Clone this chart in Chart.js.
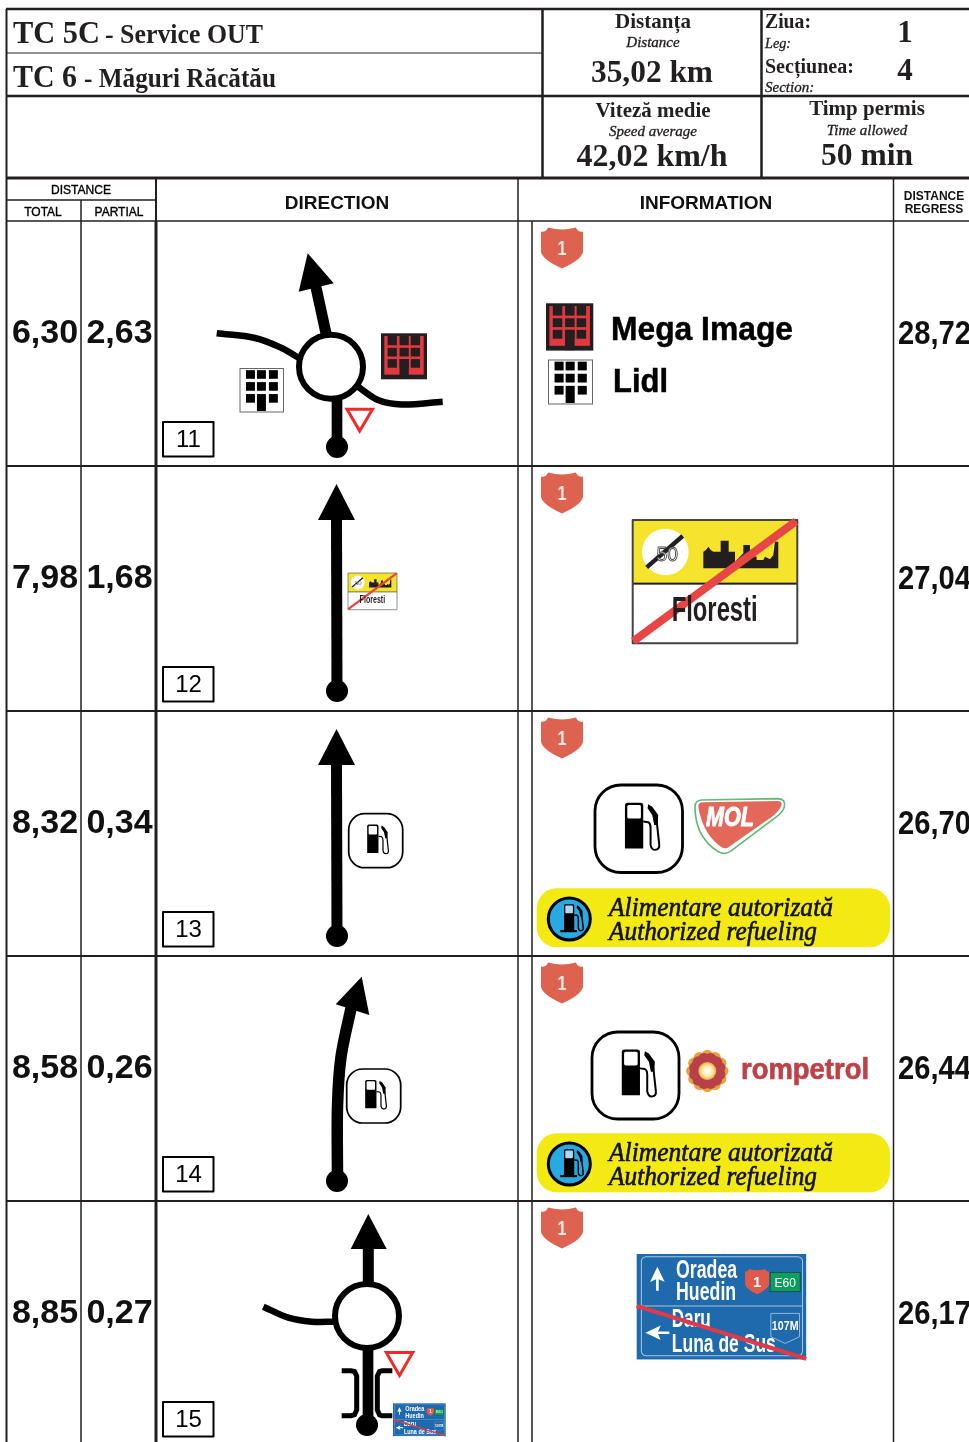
<!DOCTYPE html>
<html>
<head>
<meta charset="utf-8">
<style>html,body{margin:0;padding:0;background:#fff;overflow:hidden}canvas{display:block}</style>
<script src="https://cdn.jsdelivr.net/npm/chart.js@4"></script>
</head>
<body>
<canvas id="c" width="969" height="1442"></canvas>
<script>
// ---- Roadbook values ----
const rowNumbers = ["11", "12", "13", "14", "15"];
const totals = ["6,30", "7,98", "8,32", "8,58", "8,85"];
const partials = ["2,63", "1,68", "0,34", "0,26", "0,27"];
const regress = ["28,72", "27,04", "26,70", "26,44", "26,17"];
const infoBrands = ["Mega Image", "Lidl", "rompetrol", "MOL"];
const refuelLines = ["Alimentare autorizată", "Authorized refueling"];
const directionLines = ["Oradea", "Huedin", "Daru", "Luna de Sus"];

const SERIF = '"Liberation Serif"', SANS = '"Liberation Sans"';
const INK = '#231f20', RED = '#ee2a2e', SHIELD = '#dd6350';
const ROW0 = 221, ROWH = 245;

// ---- Line work, all in axis units, drawn by the library ----
const sets = [];
function stroke(pts, width, tension, color) {
  sets.push({
    data: pts.map(p => ({x: p[0], y: p[1]})), showLine: true, borderColor: color || '#000',
    borderWidth: width, tension: tension || 0, pointRadius: 0, borderCapStyle: 'butt', fill: false
  });
}
function ring(x, y) {
  sets.push({data: [{x, y}], showLine: false, pointRadius: 32, pointBorderWidth: 6,
    pointBorderColor: '#000', pointBackgroundColor: '#fff'});
}
function dot(x, y) {
  sets.push({data: [{x, y}], showLine: false, pointRadius: 11, pointBorderWidth: 0,
    pointBackgroundColor: '#000', pointBorderColor: '#000'});
}
// frame
[[[6,9],[969,9],2.5],[[7,53],[542,53],1],[[6,96],[969,96],2.5],[[6,178],[969,178],3],
 [[6,200],[156,200],1.5],[[6,221],[969,221],1.5]].forEach(l => stroke([l[0], l[1]], l[2], 0, INK));
[[6.5,9,1442,2],[542.5,9,178,2.5],[761.5,9,178,2.5],[81,200,1442,1.5],[156,178,221,2],[156,221,1442,3],
 [518,178,1442,1.5],[532,221,1442,1.5],[893.5,178,1442,1.5]].forEach(l => stroke([[l[0], l[1]], [l[0], l[2]]], l[3], 0, INK));
rowNumbers.forEach((n, i) => { if (i) stroke([[6, ROW0 + i*ROWH], [969, ROW0 + i*ROWH]], 2, 0, INK); });

// row 11 roundabout
stroke([[216.7,333.3],[255,338],[281.7,348],[299,358]], 6.5, .35);
stroke([[357,386],[378,400],[401.7,404.5],[442.7,401.7]], 6.5, .35);
stroke([[337,447],[337,392]], 10.7);
stroke([[327,338],[315.5,285]], 11);
ring(331, 366.7);
dot(337, 447);
// rows 12, 13 straight
[466, 711].forEach(t => { stroke([[337, t+225],[336.5, t+52]], 11); dot(337, t+225); });
// row 14 curve
stroke([[337.5,1181],[337.5,1107],[341,1057],[351.5,1006]], 11.5, .3);
dot(337, 1181);
// row 15 roundabout
stroke([[263.3,1306.7],[288.3,1317.7],[311.7,1321.7],[336,1321.7]], 6.5, .35);
stroke([[368.3,1284],[368.3,1247]], 11);
stroke([[368,1425],[368,1350]], 10.7);
stroke([[341.7,1370.7],[351,1370.7],[354.5,1371.5],[356.7,1376],[356.7,1410],[354.5,1414.7],[351,1415.7],[341.7,1415.7]], 5);
stroke([[392.3,1370.7],[382,1370.7],[379.5,1371.5],[377.3,1376],[377.3,1410],[379.5,1414.7],[382,1415.7],[392.3,1415.7]], 5);
ring(367, 1316);
dot(367, 1425);

// ---- Icons and text ----
function drawAll(chart) {
  const ctx = chart.ctx, X = v => chart.scales.x.getPixelForValue(v), Y = v => chart.scales.y.getPixelForValue(v);
  function T(s, x, y, font, o) {
    o = o || {};
    ctx.font = font; ctx.fillStyle = o.color || INK; ctx.textAlign = o.align || 'left'; ctx.textBaseline = 'alphabetic';
    if (o.w) ctx.fillText(s, X(x), Y(y), o.w); else ctx.fillText(s, X(x), Y(y));
    if (o.heavy) {
      ctx.lineWidth = o.heavy; ctx.strokeStyle = o.color || INK; ctx.lineJoin = 'round';
      if (o.w) ctx.strokeText(s, X(x), Y(y), o.w); else ctx.strokeText(s, X(x), Y(y));
    }
  }
  function poly(pts, fill, sw, sc) {
    ctx.beginPath(); pts.forEach((p, i) => i ? ctx.lineTo(p[0], p[1]) : ctx.moveTo(p[0], p[1])); ctx.closePath();
    if (fill) { ctx.fillStyle = fill; ctx.fill(); }
    if (sw) { ctx.lineWidth = sw; ctx.strokeStyle = sc; ctx.lineJoin = 'miter'; ctx.stroke(); }
  }
  function rrect(x, y, w, h, r) { ctx.beginPath(); ctx.roundRect(x, y, w, h, r); }
  function frame(x, y, k, fn) { ctx.save(); ctx.translate(X(x), Y(y)); ctx.scale(k, k); fn(); ctx.restore(); }

  // header texts
  const SB = 'bold ';
  T('TC 5C', 13, 43, `${SB}32px ${SERIF}`, {w: 87});
  T('- Service OUT', 105, 43, `${SB}27px ${SERIF}`, {w: 158});
  T('TC 6', 13, 87, `${SB}32px ${SERIF}`, {w: 64});
  T('- Măguri Răcătău', 84, 87, `${SB}27px ${SERIF}`, {w: 192});
  const c = {align: 'center'};
  T('Distanța', 653, 28, `${SB}21px ${SERIF}`, {...c, w: 77});
  T('Distance', 653, 47, `italic 15px ${SERIF}`, {...c, w: 58, heavy: .35});
  T('35,02 km', 652, 82, `${SB}32px ${SERIF}`, {...c, w: 122});
  T('Ziua:', 765, 28, `${SB}20px ${SERIF}`, {w: 46});
  T('Leg:', 765, 48, `italic 15px ${SERIF}`, {w: 26, heavy: .35});
  T('1', 905, 42, `${SB}31px ${SERIF}`, c);
  T('Secțiunea:', 765, 73, `${SB}20px ${SERIF}`, {w: 91});
  T('Section:', 765, 92, `italic 15px ${SERIF}`, {w: 52, heavy: .35});
  T('4', 905, 80, `${SB}31px ${SERIF}`, c);
  T('Viteză medie', 653, 117, `${SB}21px ${SERIF}`, {...c, w: 115});
  T('Speed average', 653, 136, `italic 15px ${SERIF}`, {...c, w: 91, heavy: .35});
  T('42,02 km/h', 652, 166, `${SB}32px ${SERIF}`, {...c, w: 151});
  T('Timp permis', 867, 115, `${SB}21px ${SERIF}`, {...c, w: 116});
  T('Time allowed', 867, 135, `italic 15px ${SERIF}`, {...c, w: 87, heavy: .35});
  T('50 min', 867, 165, `${SB}32px ${SERIF}`, {...c, w: 92});
  // table header
  T('DISTANCE', 81, 194, `12px ${SANS}`, {...c, w: 61, color: '#000', heavy: .35});
  T('TOTAL', 43, 216, `12px ${SANS}`, {...c, w: 38, color: '#000', heavy: .35});
  T('PARTIAL', 119, 216, `12px ${SANS}`, {...c, w: 53, color: '#000', heavy: .35});
  T('DIRECTION', 337, 209, `bold 19px ${SANS}`, {...c, w: 106, color: '#111'});
  T('INFORMATION', 706, 209, `bold 19px ${SANS}`, {...c, w: 135, color: '#111'});
  T('DISTANCE', 934, 200, `bold 12px ${SANS}`, {...c, w: 61, color: '#111'});
  T('REGRESS', 934, 213, `bold 12px ${SANS}`, {...c, w: 59, color: '#111'});

  function shield(x, y, w, h, color) {
    ctx.save(); ctx.translate(x, y); ctx.scale(w, h);
    ctx.beginPath(); ctx.moveTo(0, .1);
    ctx.quadraticCurveTo(.12, .12, .17, 0); ctx.quadraticCurveTo(.5, .1, .83, 0); ctx.quadraticCurveTo(.88, .12, 1, .1);
    ctx.lineTo(1, .6); ctx.quadraticCurveTo(.95, .8, .5, 1); ctx.quadraticCurveTo(.05, .8, 0, .6); ctx.closePath();
    ctx.fillStyle = color; ctx.fill(); ctx.restore();
  }
  // rows
  rowNumbers.forEach((n, i) => {
    const t = ROW0 + i * ROWH;
    T(totals[i], 45, t + 122, `bold 34px ${SANS}`, {...c, color: '#111'});
    T(partials[i], 119.5, t + 122, `bold 34px ${SANS}`, {...c, color: '#111'});
    T(regress[i], 898, t + 123, `bold 34px ${SANS}`, {w: 73, color: '#111'});
    ctx.lineWidth = 2; ctx.strokeStyle = '#000'; ctx.strokeRect(X(163), Y(t + 201), 50.5, 34.5);
    T(n, 188.5, t + 226, `24px ${SANS}`, {...c, color: '#000'});
    shield(X(541), Y(t + 6.5), 42, 41, SHIELD);
    T('1', 562, t + 33.5, `bold 20px ${SANS}`, {...c, w: 9, color: '#fbe9e4'});
  });

  function yieldSign(a, b, cc) { poly([a, b, cc].map(p => [X(p[0]), Y(p[1])]), null, 3, RED); }
  function head(a, b, cc) { poly([a, b, cc].map(p => [X(p[0]), Y(p[1])]), '#000'); }

  function lidl(x, y, s) {
    frame(x, y, s / 131, () => {
      ctx.fillStyle = '#fff'; ctx.fillRect(0, 0, 131, 131);
      ctx.strokeStyle = '#666'; ctx.lineWidth = 3; ctx.strokeRect(0, 0, 131, 131);
      ctx.fillStyle = '#000';
      [18, 51, 87].forEach(a => [5, 41].forEach(b => ctx.fillRect(a, b, 27, 26)));
      ctx.fillRect(18, 77, 27, 26); ctx.fillRect(87, 77, 27, 26); ctx.fillRect(51, 77, 27, 51);
    });
  }
  function mega(x, y, s) {
    frame(x, y, s / 139, () => {
      ctx.fillStyle = INK; ctx.fillRect(0, 0, 139, 139);
      ctx.fillStyle = '#e0393f'; ctx.fillRect(10, 8, 119, 117);
      ctx.fillStyle = INK;
      [20, 56, 90].forEach(a => [8, 44, 78].forEach(b => ctx.fillRect(a, b, 28, b === 8 ? 28 : 26)));
      ctx.fillRect(56, 78, 28, 60);
    });
  }
  function pump(windowColor, hoseW) {
    ctx.fillStyle = '#000'; rrect(90, 53, 55, 138, [8, 8, 0, 0]); ctx.fill();
    ctx.fillStyle = windowColor; rrect(97, 60, 41, 41, 5); ctx.fill();
    ctx.strokeStyle = '#000'; ctx.lineWidth = hoseW; ctx.beginPath();
    ctx.moveTo(145, 110); ctx.lineTo(160, 112); ctx.quadraticCurveTo(167, 115, 167, 130); ctx.lineTo(167, 180);
    ctx.quadraticCurveTo(170, 195, 180, 195); ctx.quadraticCurveTo(195, 195, 193, 178); ctx.lineTo(185, 105); ctx.stroke();
    poly([[160, 58], [172, 65], [190, 90], [188, 120], [178, 120], [172, 90], [158, 70]], '#000');
  }
  function fuelBox(x, y, s) {
    frame(x, y, s / 263, () => {
      ctx.fillStyle = '#fff'; rrect(0, 0, 263, 263, 78); ctx.fill();
      ctx.strokeStyle = '#000'; ctx.lineWidth = 8.5; ctx.stroke();
      pump('#fff', 6);
    });
  }
  function refuelBar(y) {
    ctx.fillStyle = '#f3ea14'; rrect(X(536.7), Y(y), 353.3, 59, 20); ctx.fill();
    const cx = X(569.3), cy = Y(y + 30.7);
    ctx.beginPath(); ctx.arc(cx, cy, 21, 0, Math.PI * 2); ctx.fillStyle = '#27aae1'; ctx.fill();
    ctx.lineWidth = 3; ctx.strokeStyle = '#000'; ctx.stroke();
    ctx.save(); ctx.translate(cx - 5.3 - 90 * .186, cy - 14.7 - 53 * .186); ctx.scale(.186, .186);
    pump('#a9dcf2', 8);
    ctx.fillStyle = '#000'; ctx.fillRect(70, 191, 90, 12);
    ctx.restore();
    T(refuelLines[0], 609, y + 27.5, `italic 27px ${SERIF}`, {w: 224, color: '#111', heavy: .6});
    T(refuelLines[1], 609, y + 51.5, `italic 27px ${SERIF}`, {w: 208, color: '#111', heavy: .6});
  }
  function townSign(x, y, w) {
    frame(x, y, w / 494, () => {
      ctx.fillStyle = '#fff'; ctx.fillRect(0, 0, 494, 370);
      ctx.fillStyle = '#f6e32b'; ctx.fillRect(0, 0, 494, 190);
      ctx.fillStyle = INK; ctx.fillRect(0, 188, 494, 6);
      ctx.strokeStyle = '#444'; ctx.lineWidth = 6; ctx.strokeRect(0, 0, 494, 370);
      ctx.beginPath(); ctx.arc(98, 96, 70, 0, 7); ctx.fillStyle = '#fff'; ctx.fill();
      ctx.strokeStyle = INK; ctx.lineWidth = 13; ctx.beginPath(); ctx.moveTo(42, 142); ctx.lineTo(150, 48); ctx.stroke();
      ctx.font = `58px ${SANS}`; ctx.textAlign = 'center'; ctx.textBaseline = 'alphabetic';
      ctx.lineWidth = 2.5; ctx.strokeStyle = '#444'; ctx.fillStyle = 'rgba(255,255,255,.75)';
      ctx.fillText('50', 104, 122); ctx.strokeText('50', 104, 122);
      const city = [[520,205],[520,155],[528,150],[535,140],[542,150],[550,155],[572,155],[572,122],[596,122],[596,155],[615,155],[615,185],[640,160],[640,135],[660,135],[660,165],[680,170],[680,180],[700,180],[705,170],[720,178],[730,165],[735,125],[745,125],[745,205]];
      poly(city.map(p => [p[0] - 308, p[1] - 60]), INK);
      ctx.strokeStyle = '#e84545'; ctx.lineWidth = 24; ctx.beginPath(); ctx.moveTo(2, 364); ctx.lineTo(490, 4); ctx.stroke();
      ctx.font = `bold 108px ${SANS}`; ctx.fillStyle = INK; ctx.textAlign = 'center';
      ctx.fillText('Floresti', 246, 302, 258);
    });
  }
  function dirSign(x, y, w) {
    frame(x, y, w / 508, () => {
      ctx.fillStyle = '#1f69ad'; ctx.fillRect(0, 0, 508, 316);
      ctx.strokeStyle = '#a9c6e2'; ctx.lineWidth = 3; rrect(14, 8, 483, 297, 14); ctx.stroke();
      ctx.beginPath(); ctx.moveTo(14, 156); ctx.lineTo(497, 156); ctx.stroke();
      ctx.fillStyle = '#fff';
      poly([[62, 38], [40, 84], [58, 76], [58, 110], [66, 110], [66, 76], [84, 84]], '#fff');
      poly([[26, 236], [72, 214], [64, 232], [98, 232], [98, 240], [64, 240], [72, 258]], '#fff');
      ctx.font = `bold 75px ${SANS}`; ctx.fillStyle = '#fff'; ctx.textAlign = 'left'; ctx.textBaseline = 'alphabetic';
      ctx.fillText(directionLines[0], 118, 73, 183);
      ctx.fillText(directionLines[1], 118, 138, 180);
      ctx.fillText(directionLines[2], 105, 220, 117);
      ctx.fillText(directionLines[3], 105, 293, 312);
      shield(325, 45, 72, 76, '#e05a4c');
      ctx.font = `bold 44px ${SANS}`; ctx.fillStyle = '#fff'; ctx.textAlign = 'center';
      ctx.fillText('1', 361, 98);
      ctx.fillStyle = '#0a9f5a'; ctx.fillRect(400, 55, 90, 58);
      ctx.strokeStyle = '#234'; ctx.lineWidth = 2; ctx.strokeRect(400, 55, 90, 58);
      ctx.font = `40px ${SANS}`; ctx.fillStyle = '#fff'; ctx.fillText('E60', 445, 98, 64);
      poly([[402, 178], [488, 178], [488, 248], [445, 268], [402, 248]], null, 2.5, '#a9c6e2');
      ctx.font = `bold 40px ${SANS}`; ctx.fillStyle = '#fff'; ctx.fillText('107M', 445, 228, 80);
      ctx.strokeStyle = '#dd3a4a'; ctx.lineWidth = 13; ctx.beginPath(); ctx.moveTo(0, 156); ctx.lineTo(508, 314); ctx.stroke();
    });
  }

  // row 11
  head([307.7, 253.3], [298.7, 291.7], [333.7, 283.3]);
  yieldSign([347, 409.3], [372.5, 409.3], [359.7, 431]);
  lidl(240, 368.5, 43.5);
  mega(381, 333.3, 46);
  mega(546, 303.3, 47.3);
  lidl(548.5, 360, 44);
  T(infoBrands[0], 611, 340, `bold 33px ${SANS}`, {w: 182, color: '#000', heavy: .5});
  T(infoBrands[1], 613, 392, `bold 33px ${SANS}`, {w: 55, color: '#000', heavy: .5});
  // row 12
  head([336.5, 484], [318, 520], [355, 520]);
  townSign(348, 573, 49);
  townSign(632.7, 520, 164.6);
  // row 13
  head([336.5, 729], [318, 765], [355, 765]);
  fuelBox(348.7, 813.7, 54);
  fuelBox(595, 785, 87.5);
  ctx.save(); ctx.translate(X(530), Y(770)); ctx.scale(1 / 3, 1 / 3);
  ctx.beginPath(); ctx.moveTo(495, 110); ctx.quadraticCurveTo(495, 92, 515, 90); ctx.lineTo(745, 86); ctx.quadraticCurveTo(768, 88, 763, 110);
  ctx.quadraticCurveTo(760, 125, 740, 140); ctx.lineTo(600, 245); ctx.quadraticCurveTo(585, 255, 565, 245); ctx.quadraticCurveTo(530, 225, 510, 185); ctx.quadraticCurveTo(495, 150, 495, 110); ctx.closePath();
  ctx.fillStyle = '#fff'; ctx.fill(); ctx.strokeStyle = '#5dbb76'; ctx.lineWidth = 5; ctx.stroke();
  ctx.beginPath(); ctx.moveTo(505, 112); ctx.quadraticCurveTo(503, 97, 520, 97); ctx.lineTo(745, 93); ctx.quadraticCurveTo(760, 93, 752, 112);
  ctx.quadraticCurveTo(745, 125, 730, 137); ctx.lineTo(592, 234); ctx.quadraticCurveTo(578, 238, 562, 222); ctx.quadraticCurveTo(518, 185, 505, 112); ctx.closePath();
  ctx.fillStyle = '#e4685a'; ctx.fill();
  ctx.restore();
  T(infoBrands[3], 730, 826, `italic bold 27px ${SANS}`, {...c, w: 48, color: '#fff', heavy: 1});
  refuelBar(888.3);
  // row 14
  head([361.7, 976.7], [335.7, 1004.3], [369.3, 1015]);
  fuelBox(346.7, 1069, 54);
  fuelBox(592, 1032, 87);
  const fx = X(707.3), fy = Y(1071);
  for (let i = 0; i < 12; i++) {
    const a = i * Math.PI / 6;
    ctx.beginPath(); ctx.arc(fx + 15.5 * Math.cos(a), fy + 15.5 * Math.sin(a), 5.7, 0, 7); ctx.fillStyle = '#e9a23b'; ctx.fill();
  }
  for (let i = 0; i < 12; i++) {
    const a = (i + .5) * Math.PI / 6;
    ctx.beginPath(); ctx.arc(fx + 12.5 * Math.cos(a), fy + 12.5 * Math.sin(a), 6, 0, 7); ctx.fillStyle = '#b8404a'; ctx.fill();
  }
  const g = ctx.createRadialGradient(fx, fy, 1, fx, fy, 9);
  g.addColorStop(0, '#fff'); g.addColorStop(.55, '#fde9a8'); g.addColorStop(1, '#ecab3c');
  ctx.beginPath(); ctx.arc(fx, fy, 9, 0, 7); ctx.fillStyle = g; ctx.fill();
  T(infoBrands[2], 741, 1079, `bold 30px ${SANS}`, {w: 128, color: '#bd4147', heavy: .7});
  refuelBar(1133.3);
  // row 15
  head([368.3, 1214], [350.7, 1249], [386.7, 1249]);
  yieldSign([386.3, 1352.5], [412.7, 1352.5], [399.5, 1375.5]);
  dirSign(393, 1403.3, 52.7);
  dirSign(636.7, 1254, 169.5);
}

new Chart(document.getElementById('c'), {
  type: 'scatter',
  data: {datasets: sets.slice().reverse()},
  options: {
    responsive: false, animation: false, events: [], devicePixelRatio: 1,
    layout: {padding: 0, autoPadding: false},
    plugins: {legend: {display: false}, tooltip: {enabled: false}, title: {display: false}},
    scales: {
      x: {type: 'linear', min: 0, max: 969, display: false},
      y: {type: 'linear', min: 0, max: 1442, reverse: true, display: false}
    },
    elements: {point: {hoverRadius: 0}}
  },
  plugins: [{
    id: 'roadbook',
    beforeDraw(ch) { ch.ctx.save(); ch.ctx.fillStyle = '#fff'; ch.ctx.fillRect(0, 0, 969, 1442); ch.ctx.restore(); },
    afterDatasetsDraw(ch) { ch.ctx.save(); drawAll(ch); ch.ctx.restore(); }
  }]
});
</script>
</body>
</html>
